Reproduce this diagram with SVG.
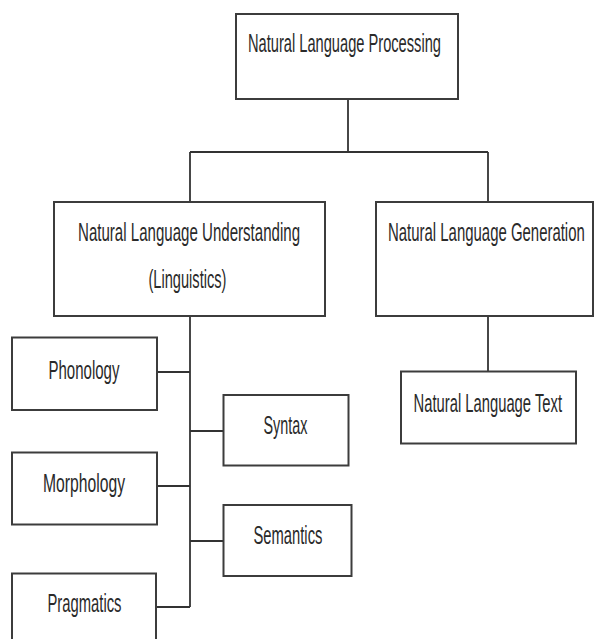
<svg xmlns="http://www.w3.org/2000/svg" width="594" height="639" viewBox="0 0 594 639">
<style>
.box{fill:#ffffff;stroke:#3c3c3c;stroke-width:2}
.lbl{font-family:"Liberation Sans",Arial,sans-serif;font-size:26px;fill:#2a2a2a}
.ln{fill:none;stroke:#333333;stroke-width:1.8}
</style>
<rect width="594" height="639" fill="#ffffff"/>
<g id="connectors">
<path class="ln" d="M348,99 V152"/>
<path class="ln" d="M190,152 H488" stroke-width="2.6"/>
<path class="ln" d="M190,152 V202 M488,152 V202"/>
<path class="ln" d="M190,316 V607"/>
<path class="ln" d="M157,372 H190 M190,431 H223.5 M157,486 H190 M190,541 H223.5 M156,607 H190"/>
<path class="ln" d="M488,316 V371.5"/>
</g>
<g id="nlp">
<rect class="box" x="236" y="14" width="222" height="85"/>
<text class="lbl" transform="matrix(0.5635,0,0,1,248,52)">Natural Language Processing</text>
</g>
<g id="nlu">
<rect class="box" x="54" y="202" width="271" height="114"/>
<text class="lbl" transform="matrix(0.5797,0,0,1,78,241)">Natural Language Understanding</text>
<text class="lbl" transform="matrix(0.5624,0,0,1,148.5,288)">(Linguistics)</text>
</g>
<g id="nlg">
<rect class="box" x="376" y="202" width="217" height="114"/>
<text class="lbl" transform="matrix(0.575,0,0,1,388,241)">Natural Language Generation</text>
</g>
<g id="nlt">
<rect class="box" x="401" y="371.5" width="175" height="72"/>
<text class="lbl" transform="matrix(0.569,0,0,1,413.5,411.5)">Natural Language Text</text>
</g>
<g id="phonology">
<rect class="box" x="12" y="337.5" width="145" height="72.5"/>
<text class="lbl" transform="matrix(0.578,0,0,1,48.5,378.5)">Phonology</text>
</g>
<g id="morphology">
<rect class="box" x="12" y="452.5" width="145" height="72"/>
<text class="lbl" transform="matrix(0.604,0,0,1,43,491.5)">Morphology</text>
</g>
<g id="pragmatics">
<rect class="box" x="12" y="573.5" width="144" height="80"/>
<text class="lbl" transform="matrix(0.569,0,0,1,47.5,612)">Pragmatics</text>
</g>
<g id="syntax">
<rect class="box" x="223.5" y="395" width="125" height="70.5"/>
<text class="lbl" transform="matrix(0.553,0,0,1,263.5,434)">Syntax</text>
</g>
<g id="semantics">
<rect class="box" x="223.5" y="505" width="128" height="71"/>
<text class="lbl" transform="matrix(0.568,0,0,1,253.5,544)">Semantics</text>
</g>
</svg>
